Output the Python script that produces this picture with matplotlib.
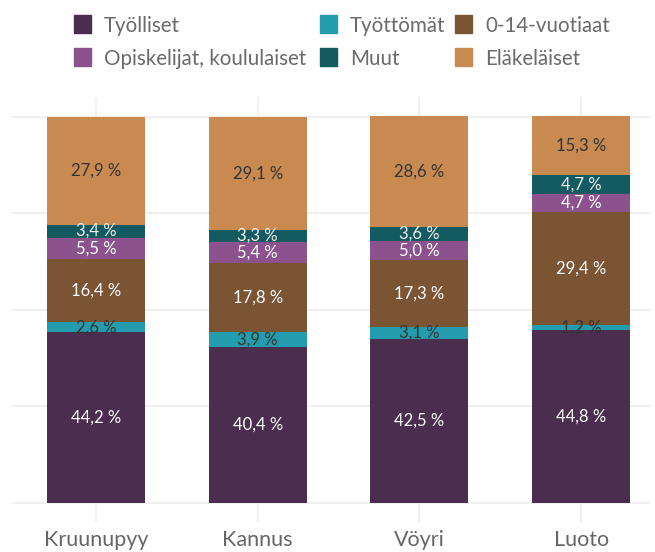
import matplotlib.pyplot as plt
from matplotlib.patches import Rectangle
import numpy as np

plt.rcParams['font.family'] = ['Lato', 'DejaVu Sans']

kunnat = ["Kruunupyy", "Kannus", "Vöyri", "Luoto"]
ryhmat = ["Työlliset", "Työttömät", "0-14-vuotiaat",
          "Opiskelijat, koululaiset", "Muut", "Eläkeläiset"]
tyolliset = [44.2, 40.4, 42.5, 44.8]
tyottomat = [2.6, 3.9, 3.1, 1.2]
lapset = [16.4, 17.8, 17.3, 29.4]
opiskelijat = [5.5, 5.4, 5.0, 4.7]
muut = [3.4, 3.3, 3.6, 4.7]
elakelaiset = [27.9, 29.1, 28.6, 15.3]

varit = ["#4B2D4F", "#239DAE", "#7B5434", "#8B528D", "#135A61", "#C88A50"]
tekstivarit = ["white", "#333333", "white", "white", "#eeeeee", "#333333"]
sarjat = [tyolliset, tyottomat, lapset, opiskelijat, muut, elakelaiset]

W, H = 655, 552
fig = plt.figure(figsize=(W / 100, H / 100), dpi=100)
ax = fig.add_axes([11/W, 30/H, 639/W, 425/H])

x = np.arange(len(kunnat))
for xi in x:
    ax.axvline(xi, color="#f0f0f0", lw=1.5, zorder=0)
for yv in [0, 25, 50, 75, 100]:
    ax.axhline(yv, color="#f0f0f0", lw=1.5, zorder=0)

pohja = np.zeros(len(kunnat))
for arvot, vari, tv in zip(sarjat, varit, tekstivarit):
    arvot = np.array(arvot)
    ax.bar(x, arvot, bottom=pohja, width=0.605, color=vari, zorder=2)
    for xi, b, v in zip(x, pohja, arvot):
        ax.text(xi, b + v / 2, f"{v:.1f} %".replace(".", ","), ha="center",
                va="center", color=tv, fontsize=12, zorder=3)
    pohja += arvot

ax.set_xlim(-0.525, 3.426)
ax.set_ylim(-4.9, 105.1)
ax.set_xticks(x)
ax.set_xticklabels(kunnat, fontsize=15.5, color="#666666")
ax.tick_params(axis="x", length=0, pad=6)
ax.set_yticks([])
for s in ax.spines.values():
    s.set_visible(False)

# selite käsin: sarakkeiden ja rivien paikat pikseleinä
sarake_x = [74, 320, 455]
rivi_y = [24, 57]
for i, (nimi, vari) in enumerate(zip(ryhmat, varit)):
    r, c = divmod(i, 3)
    px, py = sarake_x[c], rivi_y[r]
    fig.patches.append(Rectangle((px / W, 1 - (py + 8.5) / H), 17 / W, 17 / H,
                                 transform=fig.transFigure, color=vari))
    fig.text((px + 30) / W, 1 - py / H, nimi, ha="left", va="center_baseline",
             fontsize=14.8, color="#6a6a6a")

fig.savefig("out.png", dpi=100)
